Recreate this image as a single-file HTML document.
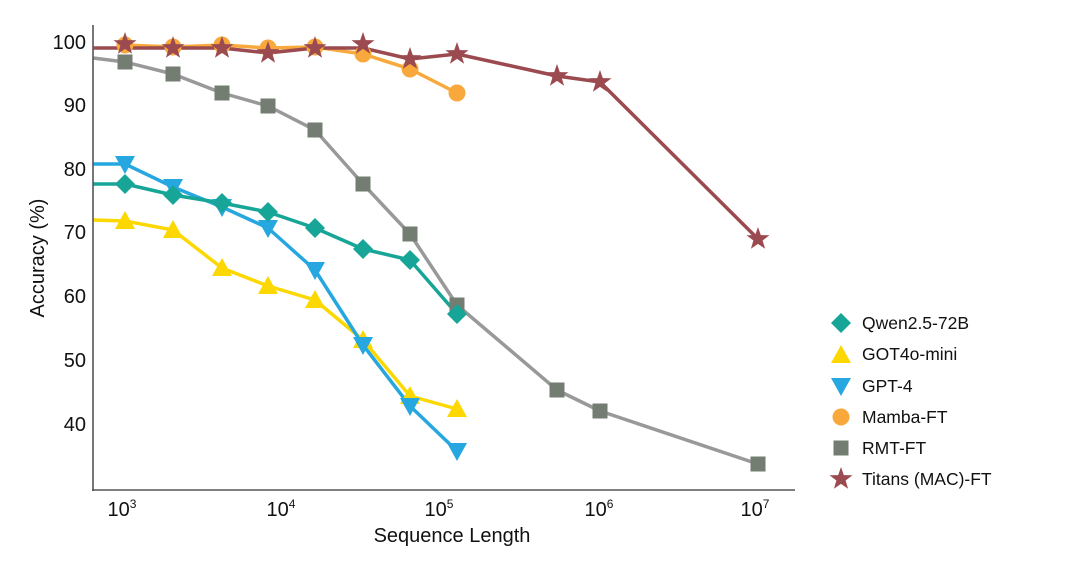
<!DOCTYPE html>
<html><head><meta charset="utf-8"><style>
html,body{margin:0;padding:0;background:#fff;}
svg{display:block;font-family:"Liberation Sans",sans-serif;}
</style></head><body>
<svg width="1080" height="569" viewBox="0 0 1080 569">
<defs>
<path id="star" d="M0,-12 L2.8,-3.9 L11.5,-3.7 L4.6,1.5 L7.1,9.8 L0,4.9 L-7.1,9.8 L-4.6,1.5 L-11.5,-3.7 L-2.8,-3.9Z"/>
<path id="dia" d="M0,-10 L10,0 L0,10 L-10,0Z"/>
<path id="tri" d="M0,-10 L10,8 L-10,8Z"/>
<path id="itri" d="M0,10 L10,-8 L-10,-8Z"/>
<rect id="sq" x="-7.5" y="-7.5" width="15" height="15"/>
</defs>
<g fill="none" stroke-width="3.5" stroke-linejoin="round">
<polyline stroke="#999999" points="93,58 125,62 173,74 222,93 268,106 315,130 363,184 410,234 457,305 557,390 600,411 758,464"/>
<polyline stroke="#fcd800" points="93,220 125,221 173,230 222,268 268,286 315,300 363,340 410,396 457,409"/>
<polyline stroke="#27a7df" points="93,164 125,164 173,187 222,207 268,228 315,270 363,345 410,406 457,451"/>
<polyline stroke="#16a596" points="93,184 125,184 173,195 222,203 268,212 315,228 363,249 410,260 457,314"/>
<polyline stroke="#f9a93b" points="125,45 173,47 222,45 268,48 315,47 363,54 410,69 457,93"/>
<polyline stroke="#9b4a4f" points="93,48 125,48 173,48 222,48 268,53 315,48 363,48 410,59 457,54 557,76 600,82 758,239"/>
</g>
<g fill="#737d72">
<use href="#sq" x="125" y="62"/><use href="#sq" x="173" y="74"/><use href="#sq" x="222" y="93"/><use href="#sq" x="268" y="106"/><use href="#sq" x="315" y="130"/><use href="#sq" x="363" y="184"/><use href="#sq" x="410" y="234"/><use href="#sq" x="457" y="305"/><use href="#sq" x="557" y="390"/><use href="#sq" x="600" y="411"/><use href="#sq" x="758" y="464"/>
</g>
<g fill="#fcd800">
<use href="#tri" x="125" y="221"/><use href="#tri" x="173" y="230"/><use href="#tri" x="222" y="268"/><use href="#tri" x="268" y="286"/><use href="#tri" x="315" y="300"/><use href="#tri" x="363" y="340"/><use href="#tri" x="410" y="396"/><use href="#tri" x="457" y="409"/>
</g>
<g fill="#27a7df">
<use href="#itri" x="125" y="164"/><use href="#itri" x="173" y="187"/><use href="#itri" x="222" y="207"/><use href="#itri" x="268" y="228"/><use href="#itri" x="315" y="270"/><use href="#itri" x="363" y="345"/><use href="#itri" x="410" y="406"/><use href="#itri" x="457" y="451"/>
</g>
<g fill="#16a596">
<use href="#dia" x="125" y="184"/><use href="#dia" x="173" y="195"/><use href="#dia" x="222" y="203"/><use href="#dia" x="268" y="212"/><use href="#dia" x="315" y="228"/><use href="#dia" x="363" y="249"/><use href="#dia" x="410" y="260"/><use href="#dia" x="457" y="314"/>
</g>
<g fill="#f9a93b">
<circle cx="125" cy="45" r="8.5"/><circle cx="173" cy="47" r="8.5"/><circle cx="222" cy="45" r="8.5"/><circle cx="268" cy="48" r="8.5"/><circle cx="315" cy="47" r="8.5"/><circle cx="363" cy="54" r="8.5"/><circle cx="410" cy="69" r="8.5"/><circle cx="457" cy="93" r="8.5"/>
</g>
<g fill="#9b4a4f">
<use href="#star" x="125" y="44"/><use href="#star" x="173" y="48"/><use href="#star" x="222" y="48"/><use href="#star" x="268" y="53"/><use href="#star" x="315" y="48"/><use href="#star" x="363" y="44"/><use href="#star" x="410" y="59"/><use href="#star" x="457" y="54"/><use href="#star" x="557" y="76"/><use href="#star" x="600" y="82"/><use href="#star" x="758" y="239"/>
</g>
<g stroke="#555" stroke-width="1.6" fill="none">
<line x1="93" y1="25" x2="93" y2="491"/>
<line x1="92" y1="490" x2="795" y2="490"/>
</g>
<g font-size="20" fill="#111" text-anchor="end">
<text x="86" y="49">100</text><text x="86" y="112">90</text><text x="86" y="176">80</text><text x="86" y="239">70</text><text x="86" y="303">60</text><text x="86" y="367">50</text><text x="86" y="431">40</text>
</g>
<g font-size="20" fill="#111" text-anchor="middle">
<text x="122" y="516">10<tspan font-size="12" dy="-8">3</tspan></text>
<text x="281" y="516">10<tspan font-size="12" dy="-8">4</tspan></text>
<text x="439" y="516">10<tspan font-size="12" dy="-8">5</tspan></text>
<text x="599" y="516">10<tspan font-size="12" dy="-8">6</tspan></text>
<text x="755" y="516">10<tspan font-size="12" dy="-8">7</tspan></text>
<text x="452" y="542">Sequence Length</text>
<text transform="translate(44,258) rotate(-90)">Accuracy (%)</text>
</g>
<g font-size="17.5" fill="#111">
<use href="#dia" x="841" y="323" fill="#16a596"/><text x="862" y="329">Qwen2.5-72B</text>
<use href="#tri" x="841" y="355" fill="#fcd800"/><text x="862" y="360">GOT4o-mini</text>
<use href="#itri" x="841" y="386" fill="#27a7df"/><text x="862" y="392">GPT-4</text>
<circle cx="841" cy="417" r="8.5" fill="#f9a93b"/><text x="862" y="423">Mamba-FT</text>
<use href="#sq" x="841" y="448" fill="#737d72"/><text x="862" y="454">RMT-FT</text>
<use href="#star" x="841" y="479" fill="#9b4a4f"/><text x="862" y="485">Titans (MAC)-FT</text>
</g>
</svg>
</body></html>
